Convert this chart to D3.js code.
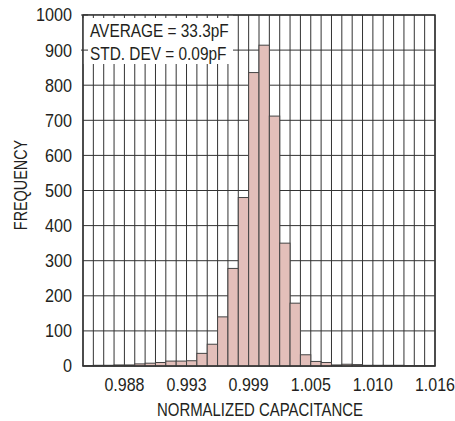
<!DOCTYPE html>
<html>
<head>
<meta charset="utf-8">
<script src="https://cdn.jsdelivr.net/npm/d3@7"></script>
<style>
  body { margin: 0; background: #fff; }
  svg text { font-family: "Liberation Sans", Arial, sans-serif; fill: #231f20; }
</style>
</head>
<body>
<div id="chart_div"></div>
<script>
// histogram of normalized capacitance, 34 bins
const frequency = [1, 2, 2, 3, 3, 6, 8, 10, 14, 14, 15, 36, 62, 140, 278, 480, 836, 914, 712, 350,
                   179, 32, 13, 10, 3, 5, 4, 2, 2, 2, 2, 1, 1, 1];
const xTickBins = [4, 10, 16, 22, 28, 34];
const xTickLabels = ["0.988", "0.993", "0.999", "1.005", "1.010", "1.016"];
const yTicks = [0, 100, 200, 300, 400, 500, 600, 700, 800, 900, 1000];
const notes = ["AVERAGE = 33.3pF", "STD. DEV = 0.09pF"];

const margin = {top: 15, right: 20, bottom: 55, left: 83};
const svgWidth = 455 - margin.left - margin.right;
const svgHeight = 421 - margin.top - margin.bottom;

// no narrow font installed, so squeeze text horizontally
function place(x, y, k, rot) {
    return "translate(" + x + "," + y + ")" + (rot ? " rotate(" + rot + ")" : "") + " scale(" + k + ",1)";
}

const svg = d3.select("#chart_div")
    .append("svg")
    .attr("width", 455)
    .attr("height", 421);

const g = svg.append("g")
    .attr("transform", "translate(" + margin.left + "," + margin.top + ")");

let xScale = d3.scaleLinear()
            .domain([0, frequency.length])
            .range([0, svgWidth]);

let yScale = d3.scaleLinear()
            .domain([0, 1000])
            .range([svgHeight, 0]);

// horizontal grid
g.append("g")
    .selectAll("line")
    .data(yTicks)
    .join("line")
    .attr("x1", 0).attr("x2", svgWidth)
    .attr("y1", d => yScale(d)).attr("y2", d => yScale(d))
    .attr("stroke", "#333").attr("stroke-width", 1);

// vertical grid, one per bin edge
g.append("g")
    .selectAll("line")
    .data(d3.range(frequency.length + 1))
    .join("line")
    .attr("x1", d => xScale(d)).attr("x2", d => xScale(d))
    .attr("y1", 0).attr("y2", svgHeight)
    .attr("stroke", "#333").attr("stroke-width", 1);

// bars
g.append("g")
    .selectAll("rect")
    .data(frequency)
    .join("rect")
    .attr("x", (d, i) => xScale(i))
    .attr("width", xScale(1) - xScale(0))
    .attr("y", d => yScale(d))
    .attr("height", d => svgHeight - yScale(d))
    .attr("fill", "#e3bfba")
    .attr("stroke", "#444")
    .attr("stroke-width", 1);

// text box over the grid
const boxW = 150, boxH = 49;
g.append("rect")
    .attr("x", 0).attr("y", 0)
    .attr("width", boxW).attr("height", boxH)
    .attr("fill", "#fff");

// small ticks left visible inside the box
g.append("g")
    .selectAll("line")
    .data(d3.range(frequency.length + 1).filter(d => xScale(d) < boxW))
    .join("line")
    .attr("x1", d => xScale(d)).attr("x2", d => xScale(d))
    .attr("y1", 0).attr("y2", 3)
    .attr("stroke", "#333");

g.append("g")
    .selectAll("line")
    .data(yTicks.filter(d => yScale(d) < boxH))
    .join("line")
    .attr("x1", -2).attr("x2", 5)
    .attr("y1", d => yScale(d)).attr("y2", d => yScale(d))
    .attr("stroke", "#333");

g.append("g")
    .selectAll("text")
    .data(notes)
    .join("text")
    .attr("transform", (d, i) => place(7, 22 + i * 22.5, 0.88))
    .attr("font-size", "17.5px")
    .text(d => d);

// frame
g.append("rect")
    .attr("width", svgWidth).attr("height", svgHeight)
    .attr("fill", "none")
    .attr("stroke", "#333").attr("stroke-width", 1.5);

// y axis labels
g.append("g")
    .selectAll("text")
    .data(yTicks)
    .join("text")
    .attr("transform", d => place(-11, yScale(d), 0.9))
    .attr("dy", "0.36em")
    .attr("text-anchor", "end")
    .attr("font-size", "18px")
    .text(d => d);

// x axis labels
g.append("g")
    .selectAll("text")
    .data(xTickBins)
    .join("text")
    .attr("transform", d => place(xScale(d), svgHeight + 25, 0.89))
    .attr("text-anchor", "middle")
    .attr("font-size", "18px")
    .text((d, i) => xTickLabels[i]);

g.append("text")
    .attr("transform", place(177, svgHeight + 50, 0.83))
    .attr("text-anchor", "middle")
    .attr("font-size", "18px")
    .text("NORMALIZED CAPACITANCE");

g.append("text")
    .attr("transform", place(-56, 170, 0.8, -90))
    .attr("text-anchor", "middle")
    .attr("font-size", "18px")
    .text("FREQUENCY");
</script>
</body>
</html>
